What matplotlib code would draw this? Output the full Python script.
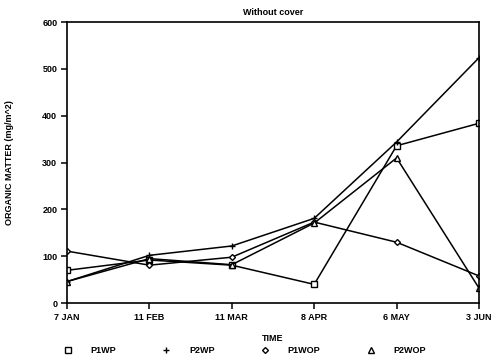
import matplotlib
matplotlib.use("Agg")
import matplotlib.pyplot as plt

dates = ["7 JAN", "11 FEB", "11 MAR", "8 APR", "6 MAY", "3 JUN"]
p1wp = [70, 92, 81, 40, 336, 384]
p2wp = [46, 102, 122, 181, 344, 524]
p1wop = [111, 81, 98, 173, 130, 58]
p2wop = [46, 95, 82, 171, 310, 32]
yticks = [0, 100, 200, 300, 400, 500, 600]

plt.rcParams['font.family'] = ['Liberation Sans', 'DejaVu Sans']
plt.rcParams['font.weight'] = 'bold'

fig = plt.figure(figsize=(5.0, 3.63), dpi=100)
ax = fig.add_axes([0.134, 0.165, 0.824, 0.774])
x = list(range(len(dates)))
kw = dict(color='black', lw=1.1, mfc='white', mec='black', mew=1.0)
ax.plot(x, p1wp, marker='s', ms=4, label='P1WP', **kw)
ax.plot(x, p2wp, marker='+', ms=5, label='P2WP', **kw)
ax.plot(x, p1wop, marker='D', ms=3, label='P1WOP', **kw)
ax.plot(x, p2wop, marker='^', ms=4, label='P2WOP', **kw)

ax.set_xlim(0, 5)
ax.set_ylim(0, 600)
ax.set_xticks(x)
ax.set_xticklabels(dates, fontsize=6.5, fontweight='bold')
ax.set_yticks(yticks)
ax.set_yticklabels([str(v) for v in yticks], fontsize=6.5, fontweight='bold')
ax.tick_params(direction='out', length=4, width=1.1, pad=3)
for s in ax.spines.values():
    s.set_linewidth(1.2)

ax.set_title('Without cover', fontsize=6.5, fontweight='bold', pad=5)
ax.set_ylabel('ORGANIC MATTER (mg/m^2)', fontsize=6.5, fontweight='bold', labelpad=20)
ax.set_xlabel('TIME', fontsize=6.5, fontweight='bold', labelpad=9)

leg = fig.legend(loc='lower left', bbox_to_anchor=(0.11, 0.0), ncol=4, frameon=False,
                 handlelength=1.0, handletextpad=2.0, columnspacing=5.1,
                 prop={'size': 6.5, 'weight': 'bold'})
for h in leg.get_lines():
    h.set_linestyle('none')

fig.savefig('out.png', dpi=100)
